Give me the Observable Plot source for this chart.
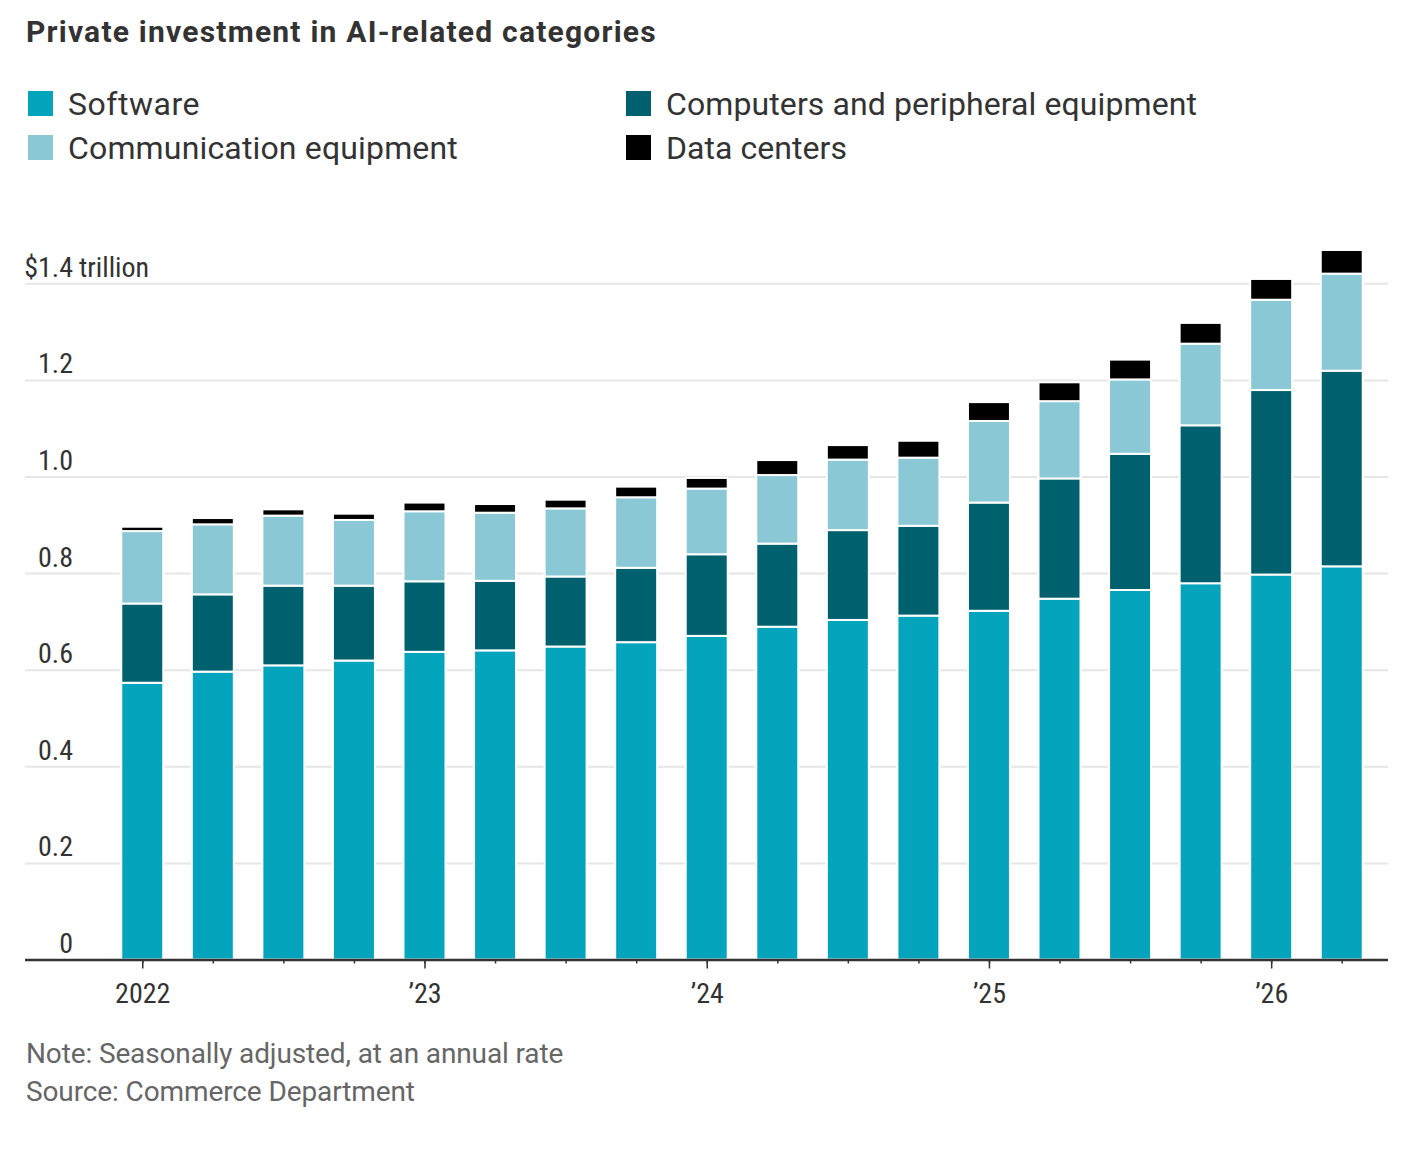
<!DOCTYPE html>
<html>
<head>
<meta charset="utf-8">
<script src="https://cdn.jsdelivr.net/npm/d3@7"></script>
<script src="https://cdn.jsdelivr.net/npm/@observablehq/plot@0.6"></script>
<style>
  body { margin: 0; background: #fff; }
  #page { position: relative; width: 1404px; height: 1152px; overflow: hidden; font-family: Roboto, "Liberation Sans", sans-serif; color: #333; }
  #title { position: absolute; left: 26px; top: 14px; font-weight: 700; font-size: 30px; line-height: 36px; white-space: nowrap; color: #333; }
  .lg { position: absolute; display: flex; align-items: center; font-size: 32px; line-height: 36px; white-space: nowrap; color: #333; }
  .sw { width: 25px; height: 25px; margin-right: 15px; flex: none; }
  #chart { position: absolute; left: 0; top: 180px; }
  .note { position: absolute; left: 26px; font-size: 28px; line-height: 34px; color: #666; white-space: nowrap; }
</style>
</head>
<body>
<div id="page">
  <div id="title"><span class="fit" data-w="631">Private investment in AI-related categories</span></div>
  <div id="legend"></div>
  <div id="chart"></div>
  <div class="note" style="top:1037px"><span class="fit" data-w="537">Note: Seasonally adjusted, at an annual rate</span></div>
  <div class="note" style="top:1075px"><span class="fit" data-w="389">Source: Commerce Department</span></div>
</div>
<script>
// ---- data (trillions of dollars, seasonally adjusted annual rate) ----
const quarters = ["2022 Q1","2022 Q2","2022 Q3","2022 Q4","2023 Q1","2023 Q2","2023 Q3","2023 Q4","2024 Q1","2024 Q2","2024 Q3","2024 Q4","2025 Q1","2025 Q2","2025 Q3","2025 Q4","2026 Q1","2026 Q2"];
const software      = [0.573,0.596,0.609,0.619,0.637,0.640,0.648,0.657,0.670,0.689,0.703,0.712,0.722,0.747,0.765,0.779,0.797,0.814];
const computers     = [0.164,0.160,0.165,0.155,0.146,0.144,0.145,0.154,0.169,0.172,0.186,0.186,0.224,0.249,0.282,0.327,0.382,0.405];
const communication = [0.150,0.145,0.145,0.136,0.145,0.141,0.141,0.146,0.136,0.142,0.146,0.141,0.169,0.160,0.154,0.169,0.187,0.201];
const dataCenters   = [0.009,0.013,0.013,0.013,0.018,0.018,0.018,0.022,0.022,0.031,0.030,0.035,0.039,0.039,0.041,0.043,0.043,0.049];

const seriesNames = ["Software","Computers and peripheral equipment","Communication equipment","Data centers"];
const seriesColors = ["#05a4bd","#00616e","#8bc8d6","#000000"];
const legendOrder = ["Software","Communication equipment","Computers and peripheral equipment","Data centers"];
const legendWidths = [132, 390, 531, 181];

const yTicks = [0,0.2,0.4,0.6,0.8,1.0,1.2,1.4];
const yTickLabels = ["0","0.2","0.4","0.6","0.8","1.0","1.2","$1.4"];
const unitLabel = "trillion";
const yearTicks = ["2022 Q1","2023 Q1","2024 Q1","2025 Q1","2026 Q1"];
const yearLabels = ["2022","\u201923","\u201924","\u201925","\u201926"];

// ---- font detection for the narrow axis font ----
function hasFont(name) {
  const c = document.createElement("canvas").getContext("2d");
  const s = "0123456789 abcdefghijklmnop";
  let diff = false;
  for (const g of ["monospace", "serif"]) {
    c.font = `40px ${g}`; const a = c.measureText(s).width;
    c.font = `40px "${name}", ${g}`; const b = c.measureText(s).width;
    if (Math.abs(a - b) > 0.5) diff = true;
  }
  return diff;
}
let axisFont = "Roboto", axisSize = 26;
for (const f of ["Liberation Sans Narrow", "Roboto Condensed", "DejaVu Sans Condensed", "Arial Narrow"]) {
  if (hasFont(f)) { axisFont = `"${f}"`; axisSize = 28; break; }
}

// ---- legend ----
const legend = document.getElementById("legend");
const legendPos = [[28, 85.5], [28, 129.5], [626, 85.5], [626, 129.5]];
legendOrder.forEach((name, i) => {
  const d = document.createElement("div");
  d.className = "lg";
  d.style.left = legendPos[i][0] + "px";
  d.style.top = legendPos[i][1] + "px";
  const sw = document.createElement("span");
  sw.className = "sw";
  sw.style.background = seriesColors[seriesNames.indexOf(name)];
  d.appendChild(sw);
  const t = document.createElement("span");
  t.className = "fit";
  t.dataset.w = legendWidths[i];
  t.textContent = name;
  d.appendChild(t);
  legend.appendChild(d);
});

// fit text widths to the reference layout with small letter-spacing tweaks
document.querySelectorAll(".fit").forEach(el => {
  el.style.display = "inline-block";
  const w = el.getBoundingClientRect().width;
  const n = el.textContent.length;
  const ls = Math.max(-2, Math.min(2, (+el.dataset.w - w) / n));
  el.style.letterSpacing = ls.toFixed(2) + "px";
});

// ---- chart ----
const values = [software, computers, communication, dataCenters];
const rows = quarters.flatMap((q, i) => seriesNames.map((s, j) => ({quarter: q, series: s, value: values[j][i]})));

const chart = Plot.plot({
  width: 1404,
  height: 850,
  marginLeft: 25,
  marginRight: 16,
  marginTop: 103.3,
  marginBottom: 70.5,
  x: {type: "band", domain: quarters, range: [100.1, 1383.9], paddingInner: 0.405, paddingOuter: 0.3, round: false, axis: null},
  y: {domain: [0, 1.4], axis: null},
  color: {domain: seriesNames, range: seriesColors},
  style: {fontFamily: axisFont, fontSize: axisSize + "px", color: "#333", background: "white", overflow: "visible"},
  marks: [
    Plot.ruleY(yTicks.filter(d => d > 0), {stroke: "#e6e6e6", strokeWidth: 2}),
    Plot.barY(rows, {x: "quarter", y: "value", fill: "series", order: seriesNames, stroke: "white", strokeWidth: 2}),
    Plot.ruleY([0], {stroke: "#333", strokeWidth: 2.5}),
    Plot.axisX({ticks: quarters, tickSize: 4, tickFormat: () => "", label: null, stroke: "#333", strokeWidth: 1.5}),
    Plot.axisX({ticks: yearTicks, tickSize: 9, tickPadding: 14, label: null, tickFormat: d => yearLabels[yearTicks.indexOf(d)],
                stroke: "#333", strokeWidth: 1.5, fill: "#333", fontSize: axisSize}),
    Plot.text(yTicks, {y: d => d, text: (d, i) => yTickLabels[i], frameAnchor: "left", textAnchor: "end",
                       dx: 47.5, dy: -7, lineAnchor: "bottom", fontSize: axisSize, fill: "#333"}),
    Plot.text([1.4], {y: d => d, text: () => unitLabel, frameAnchor: "left", textAnchor: "start",
                      dx: 53.5, dy: -7, lineAnchor: "bottom", fontSize: axisSize, fill: "#333"})
  ]
});
document.getElementById("chart").appendChild(chart);
</script>
</body>
</html>
